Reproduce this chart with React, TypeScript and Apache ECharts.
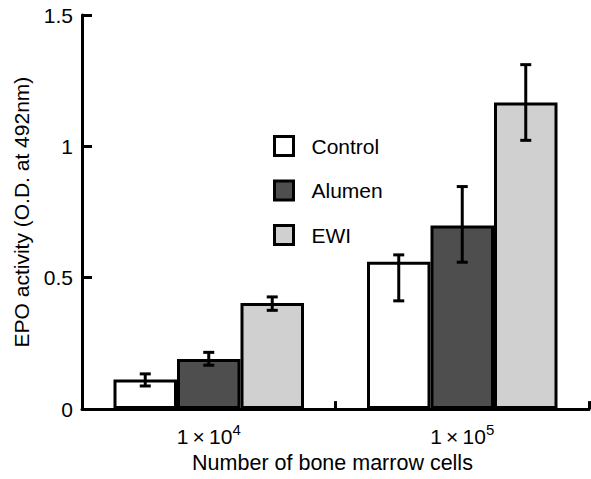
import React, { useEffect, useRef } from 'react';
import * as echarts from 'echarts';

// ---- data ----
const categories = ['1×10^4', '1×10^5'];
const seriesNames = ['Control', 'Alumen', 'EWI'];
const controlValues = [0.113, 0.561];
const alumenValues = [0.191, 0.699];
const ewiValues = [0.404, 1.167];
const controlErrLow = [0.088, 0.412];
const controlErrHigh = [0.134, 0.587];
const alumenErrLow = [0.167, 0.559];
const alumenErrHigh = [0.216, 0.847];
const ewiErrLow = [0.376, 1.023];
const ewiErrHigh = [0.427, 1.311];
const yTickValues = [0, 0.5, 1, 1.5];

const seriesColors = ['#ffffff', '#4e4e4e', '#d0d0d0'];
const FONT = '"Liberation Sans", Arial, Helvetica, sans-serif';
const BAR_W = 63.5;

const values = [controlValues, alumenValues, ewiValues];
const errLow = [controlErrLow, alumenErrLow, ewiErrLow];
const errHigh = [controlErrHigh, alumenErrHigh, ewiErrHigh];

export default function App() {
  const ref = useRef<HTMLDivElement>(null);
  useEffect(() => {
    if (!ref.current) return;
    const chart = echarts.init(ref.current, undefined, { renderer: 'svg' });

    const barSeries = seriesNames.map((name, i) => ({
      name,
      type: 'bar',
      data: values[i],
      barWidth: BAR_W,
      barGap: '0%',
      itemStyle: { color: seriesColors[i], borderColor: '#000', borderWidth: 3 },
      z: 2,
    }));

    const errSeries = seriesNames.map((name, i) => ({
      name: name + ' error',
      type: 'custom',
      z: 5,
      data: categories.map((_, c) => [c, errLow[i][c], errHigh[i][c]]),
      encode: { x: 0, y: [1, 2] },
      renderItem: (params: any, api: any) => {
        const ci = api.value(0);
        const lo = api.coord([ci, api.value(1)]);
        const hi = api.coord([ci, api.value(2)]);
        const x = lo[0] + (i - 1) * BAR_W;
        const hw = 5.5;
        const st = { stroke: '#000', lineWidth: 3 };
        return {
          type: 'group',
          children: [
            { type: 'line', shape: { x1: x, y1: hi[1], x2: x, y2: lo[1] }, style: st },
            { type: 'line', shape: { x1: x - hw, y1: hi[1], x2: x + hw, y2: hi[1] }, style: st },
            { type: 'line', shape: { x1: x - hw, y1: lo[1], x2: x + hw, y2: lo[1] }, style: st },
          ],
        };
      },
    }));

    chart.setOption({
      animation: false,
      backgroundColor: '#ffffff',
      textStyle: { fontFamily: FONT, color: '#000' },
      grid: { left: 82, right: 2, top: 15, bottom: 67.3, containLabel: false },
      legend: {
        data: seriesNames,
        orient: 'vertical',
        left: 273,
        top: 135,
        padding: 0,
        itemWidth: 19,
        itemHeight: 19,
        itemGap: 22.5,
        icon: 'rect',
        itemStyle: { borderColor: '#000', borderWidth: 3 },
        textStyle: { fontFamily: FONT, fontSize: 21, color: '#000', padding: [0, 0, 0, 13] },
      },
      xAxis: {
        type: 'category',
        data: categories,
        boundaryGap: true,
        name: 'Number of bone marrow cells',
        nameLocation: 'middle',
        nameGap: 32,
        nameTextStyle: { fontFamily: FONT, fontSize: 21.5, color: '#000', padding: [0, 6, 0, 0] },
        axisLine: { lineStyle: { color: '#000', width: 3 } },
        axisTick: { show: true, inside: true, length: 8, lineStyle: { color: '#000', width: 3 } },
        axisLabel: {
          margin: 13,
          formatter: (v: string) => {
            const [base, exp] = v.split('^');
            const [one, ten] = base.split('×');
            return `{b|${one}\u2009×\u2009${ten}}{s|${exp}}`;
          },
          rich: {
            b: { fontFamily: FONT, fontSize: 21, color: '#000', verticalAlign: 'bottom', lineHeight: 25 },
            s: { fontFamily: FONT, fontSize: 15, color: '#000', verticalAlign: 'top', lineHeight: 25 },
          },
        },
      },
      yAxis: {
        type: 'value',
        min: 0,
        max: 1.5,
        interval: 0.5,
        name: 'EPO activity (O.D. at 492nm)',
        nameLocation: 'middle',
        nameGap: 50,
        nameTextStyle: { fontFamily: FONT, fontSize: 21, color: '#000' },
        axisLine: { show: true, lineStyle: { color: '#000', width: 3 } },
        axisTick: { show: true, inside: true, length: 10, lineStyle: { color: '#000', width: 3 } },
        splitLine: { show: false },
        axisLabel: {
          fontFamily: FONT,
          fontSize: 21,
          color: '#000',
          margin: 9,
          formatter: (v: number) => (yTickValues.includes(v) ? String(v) : ''),
        },
      },
      series: [...barSeries, ...errSeries],
    });
    return () => chart.dispose();
  }, []);
  return (
    <div
      ref={ref}
      style={{ position: 'absolute', left: 0, top: 0, width: 591, height: 479, background: '#fff' }}
    />
  );
}
